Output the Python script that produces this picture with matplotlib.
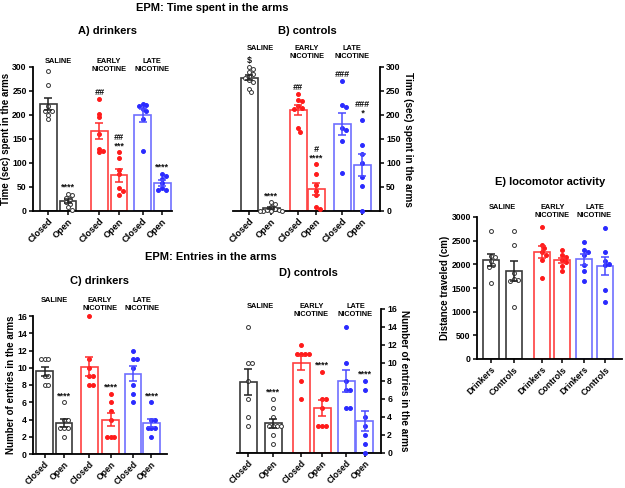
import numpy as np
import matplotlib
matplotlib.use("Agg")
import matplotlib.pyplot as plt

plt.rcParams['font.family'] = ['Liberation Sans', 'DejaVu Sans']
plt.rcParams['font.weight'] = 'bold'
plt.rcParams['axes.labelweight'] = 'bold'

# ---- data ----
arms = ["Closed", "Open", "Closed", "Open", "Closed", "Open"]
cohorts = ["Drinkers", "Controls", "Drinkers", "Controls", "Drinkers", "Controls"]
group_names = ["SALINE", "EARLY\nNICOTINE", "LATE\nNICOTINE"]

# A) time, drinkers
time_drk_sal_closed = [291, 262, 218, 210, 209, 208, 200, 191]
time_drk_sal_open = [35, 33, 28, 24, 18, 15, 8, 3]
time_drk_early_closed = [233, 203, 195, 160, 130, 122, 125]
time_drk_early_open = [122, 110, 86, 78, 48, 42, 34]
time_drk_late_closed = [222, 220, 218, 212, 208, 192, 124]
time_drk_late_open = [77, 73, 66, 58, 47, 44, 43]
time_drk_marks = ["", "****", "##", "##\n***", "", "****"]

# B) time, controls
time_ctl_sal_closed = [300, 295, 290, 285, 282, 278, 272, 268, 255, 248]
time_ctl_sal_open = [18, 15, 8, 5, 3, 2, 1, 1, 0, 0]
time_ctl_early_closed = [243, 232, 230, 218, 215, 212, 172, 165]
time_ctl_early_open = [97, 78, 55, 42, 33, 8, 5]
time_ctl_late_closed = [271, 220, 217, 172, 168, 146, 80]
time_ctl_late_open = [190, 137, 118, 100, 70, 53, 0]
time_ctl_marks = ["$", "****", "##", "#\n****", "###", "###\n*"]

# C) entries, drinkers
ent_drk_sal_closed = [11, 11, 11, 9, 9, 8, 8]
ent_drk_sal_open = [6, 4, 4, 3, 3, 3, 2]
ent_drk_early_closed = [16, 11, 10, 9, 9, 8, 8]
ent_drk_early_open = [7, 6, 5, 4, 2, 2, 2]
ent_drk_late_closed = [12, 11, 11, 10, 8, 7, 6]
ent_drk_late_open = [6, 4, 4, 3, 3, 3, 2]
ent_drk_marks = ["", "****", "", "****", "", "****"]

# D) entries, controls
ent_ctl_sal_closed = [14, 10, 10, 8, 6, 4, 3]
ent_ctl_sal_open = [6, 5, 4, 3, 3, 3, 3, 2, 1]
ent_ctl_early_closed = [12, 11, 11, 11, 11, 8, 6]
ent_ctl_early_open = [9, 6, 6, 5, 3, 3, 3]
ent_ctl_late_closed = [14, 10, 8, 7, 7, 5, 5]
ent_ctl_late_open = [8, 7, 4, 3, 2, 1, 0]
ent_ctl_marks = ["", "****", "", "****", "", "****"]

# E) locomotor activity
loco_sal_drk = [2710, 2180, 2150, 2060, 1990, 1950, 1610]
loco_sal_ctl = [2710, 2400, 1820, 1700, 1660, 1640, 1090]
loco_early_drk = [2780, 2410, 2340, 2260, 2200, 2100, 1720]
loco_early_ctl = [2300, 2190, 2160, 2100, 2050, 1960, 1850]
loco_late_drk = [2470, 2300, 2270, 2190, 1980, 1860, 1650]
loco_late_ctl = [2760, 2260, 2060, 2000, 1980, 1460, 1200]

# ---- styling ----
W, H = 625, 488
edge_cols = ["#3a3a3a", "#3a3a3a", "#ff4040", "#ff4040", "#6f6fff", "#6f6fff"]
dot_cols = ["white", "white", "#ff1a1a", "#ff1a1a", "#2a2aff", "#2a2aff"]
dot_edges = ["#333333", "#333333", "#ff1a1a", "#ff1a1a", "#2a2aff", "#2a2aff"]
err_cols = ["#222222", "#222222", "#ff2a2a", "#ff2a2a", "#4a4aff", "#4a4aff"]


def swarm(vals, px_per_unit, px_per_x, dot=3.8):
    """horizontal offsets so that overlapping dots sit side by side"""
    vals = np.asarray(vals, float)
    order = np.argsort(-vals)
    placed = []
    offs = np.zeros(len(vals))
    for i in order:
        y = vals[i] * px_per_unit
        cands = [0.0]
        for s in range(1, 8):
            cands += [s * dot * 0.5, -s * dot * 0.5]
        for c in cands:
            ok = all((c - px) ** 2 + (y - py) ** 2 >= dot ** 2 * 0.9 for px, py in placed)
            if ok:
                break
        placed.append((c, y))
        offs[i] = c / px_per_x
    return offs


def panel(ax, data, pos, ymax, ystep, xlim, ticklabels, marks, right=False,
          ylabel="", group_y=1.06, ax_px=(140, 144), xfs=6.6):
    ax.set_xlim(*xlim)
    ax.set_ylim(0, ymax)
    px_per_unit = ax_px[1] / ymax
    px_per_x = ax_px[0] / (xlim[1] - xlim[0])
    for i, vals in enumerate(data):
        vals = np.asarray(vals, float)
        m = vals.mean()
        sem = vals.std(ddof=1) / np.sqrt(len(vals))
        ax.bar(pos[i], m, width=0.85, facecolor="white", edgecolor=edge_cols[i],
               linewidth=1.2, zorder=1)
        xs = pos[i] + swarm(vals, px_per_unit, px_per_x)
        ax.scatter(xs, vals, s=8, facecolor=dot_cols[i], edgecolor=dot_edges[i],
                   linewidth=0.7, zorder=3, clip_on=False)
        ax.errorbar(pos[i], m, yerr=sem, color=err_cols[i], capsize=3.2,
                    capthick=1.1, elinewidth=1.1, zorder=4)
        if marks[i]:
            top = max(vals.max(), m + sem)
            ax.text(pos[i], top + ymax * 0.015, marks[i], ha="center", va="bottom",
                    fontsize=6.5, color="#111111", linespacing=0.9,
                    style="italic" if marks[i].startswith("#") else "normal")
    # group labels
    for g in range(3):
        xc = (pos[2 * g] + pos[2 * g + 1]) / 2
        ax.text(xc, group_y, group_names[g], transform=ax.get_xaxis_transform(),
                ha="center", va="top", fontsize=5.3, linespacing=1.2, clip_on=False)
    ax.set_yticks(np.arange(0, ymax + 1, ystep))
    ax.set_xticks(pos)
    ax.set_xticklabels(ticklabels, rotation=45, ha="right", rotation_mode="anchor",
                       fontsize=xfs)
    ax.tick_params(axis="y", labelsize=6.2, length=3, width=1.1, pad=1.5)
    ax.tick_params(axis="x", length=3, width=1.1, pad=1.2)
    for s in ["top", "left", "right"]:
        ax.spines[s].set_visible(False)
    ax.spines["bottom"].set_linewidth(1.3)
    if right:
        ax.spines["right"].set_visible(True)
        ax.spines["right"].set_linewidth(1.3)
        ax.yaxis.tick_right()
        ax.yaxis.set_label_position("right")
        ax.set_ylabel(ylabel, rotation=270, fontsize=7.2, labelpad=9)
    else:
        ax.spines["left"].set_visible(True)
        ax.spines["left"].set_linewidth(1.3)
        ax.set_ylabel(ylabel, fontsize=7.0, labelpad=1)


def rect(l, r, top, bot):
    return [l / W, 1 - bot / H, (r - l) / W, (bot - top) / H]


fig = plt.figure(figsize=(6.25, 4.88), dpi=100)

axA = fig.add_axes(rect(33, 172, 67, 211))
panel(axA, [time_drk_sal_closed, time_drk_sal_open, time_drk_early_closed,
            time_drk_early_open, time_drk_late_closed, time_drk_late_open],
      [0, 1, 2.6, 3.6, 4.8, 5.8], 300, 50, (-0.78, 6.3), arms, time_drk_marks,
      ylabel="Time (sec) spent in the arms", group_y=1.065, ax_px=(139, 144))

axB = fig.add_axes(rect(233, 380, 67, 211))
panel(axB, [time_ctl_sal_closed, time_ctl_sal_open, time_ctl_early_closed,
            time_ctl_early_open, time_ctl_late_closed, time_ctl_late_open],
      [0, 1.1, 2.45, 3.35, 4.65, 5.65], 300, 50, (-0.8, 6.55), arms, time_ctl_marks,
      right=True, ylabel="Time (sec) spent in the arms", group_y=1.15,
      ax_px=(147, 144))

axC = fig.add_axes(rect(33, 167, 316, 454))
panel(axC, [ent_drk_sal_closed, ent_drk_sal_open, ent_drk_early_closed,
            ent_drk_early_open, ent_drk_late_closed, ent_drk_late_open],
      [0, 1, 2.3, 3.4, 4.55, 5.5], 16, 2, (-0.6, 6.3), arms, ent_drk_marks,
      ylabel="Number of entries in the arms", group_y=1.14, ax_px=(134, 138),
      xfs=6.2)

axD = fig.add_axes(rect(237, 381, 309, 453))
panel(axD, [ent_ctl_sal_closed, ent_ctl_sal_open, ent_ctl_early_closed,
            ent_ctl_early_open, ent_ctl_late_closed, ent_ctl_late_open],
      [0, 1.25, 2.65, 3.7, 4.9, 5.85], 16, 2, (-0.55, 6.65), arms, ent_ctl_marks,
      right=True, ylabel="Number of entries in the arms", group_y=1.04,
      ax_px=(144, 144), xfs=6.2)

axE = fig.add_axes(rect(477, 622, 217, 359))
panel(axE, [loco_sal_drk, loco_sal_ctl, loco_early_drk, loco_early_ctl,
            loco_late_drk, loco_late_ctl],
      [0, 1.2, 2.7, 3.75, 4.9, 6.0], 3000, 500, (-0.74, 6.9), cohorts,
      [""] * 6, ylabel="Distance traveled (cm)", group_y=1.09, ax_px=(145, 142),
      xfs=6.3)

# titles
def ftext(x, y, s, size=8):
    fig.text(x / W, 1 - y / H, s, ha="center", va="center", fontsize=size,
             fontweight="bold")

ftext(212, 8, "EPM: Time spent in the arms")
ftext(107, 31, "A) drinkers")
ftext(307, 31, "B) controls")
ftext(211, 257, "EPM: Entries in the arms")
ftext(99, 281, "C) drinkers")
ftext(308, 273, "D) controls")
ftext(550, 182, "E) locomotor activity")

fig.savefig("out.png", dpi=100)
